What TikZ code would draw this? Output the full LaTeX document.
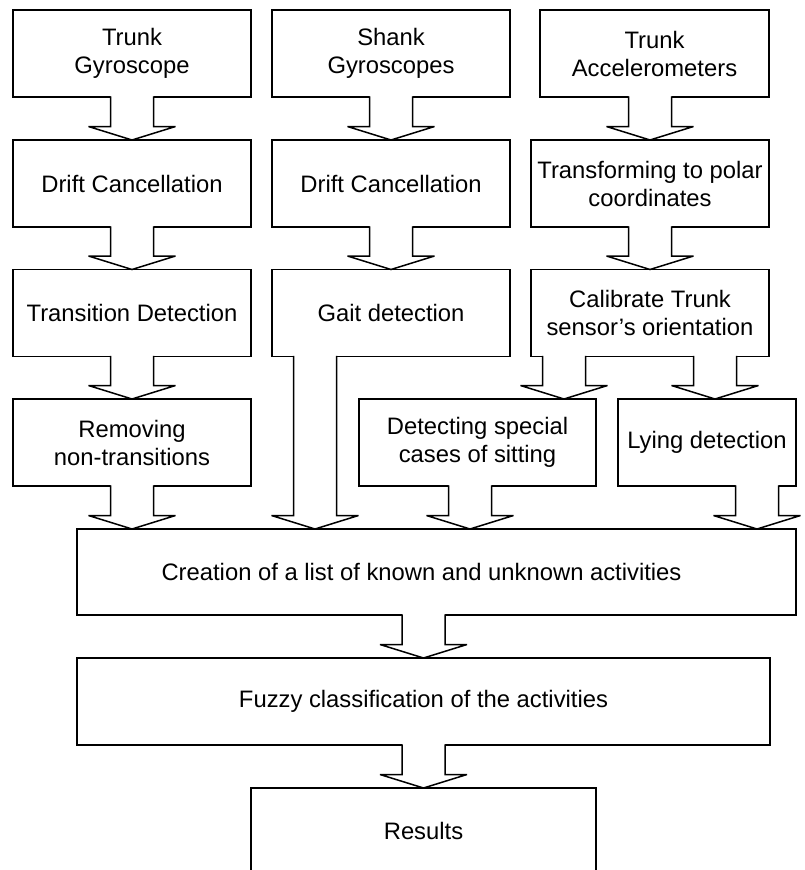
\documentclass[tikz,border=0pt]{standalone}
\usepackage{fontspec}
\setmainfont{Liberation Sans}
\begin{document}
\begin{tikzpicture}[x=1pt,y=-1pt,
  box/.style={draw, line width=1.5pt, rectangle, outer sep=0pt, inner sep=2pt,
    align=center, font=\fontsize{23.8}{28}\selectfont, minimum height=87pt},
  outline/.style={line width=1.5pt, line join=miter, miter limit=4}]
\useasboundingbox (0,0) rectangle (805,870);

% wide block arrow from the bottom of #1 to the top of #3, centred on x = #2
\newcommand\fatarrow[3]{%
  \coordinate (fa-s) at (#1.south -| #2,0);
  \coordinate (fa-t) at (#3.north -| #2,0);
  \fill[white] ([xshift=-21.5pt,yshift=2pt]fa-s) -- ([xshift=-21.5pt,yshift=13.5pt]fa-t)
    -- ([xshift=-43.5pt,yshift=13.5pt]fa-t) -- (fa-t) -- ([xshift=43.5pt,yshift=13.5pt]fa-t)
    -- ([xshift=21.5pt,yshift=13.5pt]fa-t) -- ([xshift=21.5pt,yshift=2pt]fa-s) -- cycle;
  \draw[outline] ([xshift=-21.5pt,yshift=0.75pt]fa-s) -- ([xshift=-21.5pt,yshift=13.5pt]fa-t)
    -- ([xshift=-43.5pt,yshift=13.5pt]fa-t) -- (fa-t) -- ([xshift=43.5pt,yshift=13.5pt]fa-t)
    -- ([xshift=21.5pt,yshift=13.5pt]fa-t) -- ([xshift=21.5pt,yshift=0.75pt]fa-s);
}

% left column: trunk gyroscope
\node[box, minimum width=238pt] (tg)  at (132,53.5)  {Trunk\\Gyroscope};
\node[box, minimum width=238pt] (dc1) at (132,183.5) {Drift Cancellation};
\node[box, minimum width=238pt] (td)  at (132,313)   {Transition Detection};
\node[box, minimum width=238pt] (rn)  at (132,442.5) {Removing\\non-transitions};

% middle column: shank gyroscopes
\node[box, minimum width=238pt] (sg)  at (391,53.5)  {Shank\\Gyroscopes};
\node[box, minimum width=238pt] (dc2) at (391,183.5) {Drift Cancellation};
\node[box, minimum width=238pt] (gd)  at (391,313)   {Gait detection};

% right column: trunk accelerometers
\node[box, minimum width=229pt] (ta)  at (654.5,53.5) {Trunk\\Accelerometers};
\node[box, minimum width=238pt] (tp)  at (650,183.5)  {Transforming to polar\\coordinates};
\node[box, minimum width=238pt] (cal) at (650,313)    {Calibrate Trunk\\sensor’s orientation};
\node[box, minimum width=237pt] (ds)  at (477.5,442.5) {Detecting special\\cases of sitting};
\node[box, minimum width=178pt] (ly)  at (707,442.5)   {Lying detection};

% merging stages
\node[box, minimum width=719pt, minimum height=86pt] (cr) at (436.5,572)
  {Creation of a list of known and unknown activities\hspace*{30pt}};
\node[box, minimum width=693pt] (fz) at (423.5,701.5) {Fuzzy classification of the activities};
\node[box, minimum width=345pt, minimum height=86pt] (rs) at (423.5,831) {Results};

% connectors
\fatarrow{tg}{132}{dc1}
\fatarrow{dc1}{132}{td}
\fatarrow{td}{132}{rn}
\fatarrow{rn}{132}{cr}
\fatarrow{sg}{391}{dc2}
\fatarrow{dc2}{391}{gd}
\fatarrow{gd}{315}{cr}
\fatarrow{ta}{650}{tp}
\fatarrow{tp}{650}{cal}
\fatarrow{cal}{564}{ds}
\fatarrow{cal}{715}{ly}
\fatarrow{ds}{470}{cr}
\fatarrow{ly}{757}{cr}
\fatarrow{cr}{423.5}{fz}
\fatarrow{fz}{423.5}{rs}
\end{tikzpicture}
\end{document}
